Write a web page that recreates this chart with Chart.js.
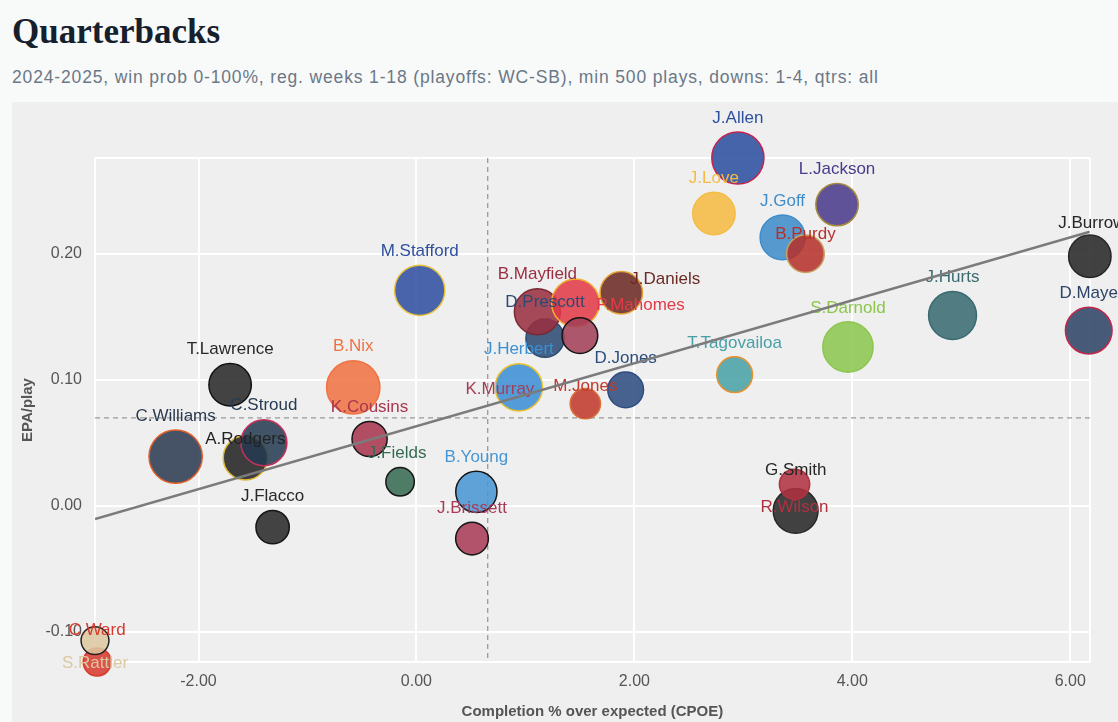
<!DOCTYPE html>
<html>
<head>
<meta charset="utf-8">
<title>Quarterbacks</title>
<script src="https://cdn.jsdelivr.net/npm/chart.js@4.4.1/dist/chart.umd.min.js"></script>
<style>
  html, body { margin: 0; padding: 0; }
  body {
    width: 1118px; height: 722px; overflow: hidden; position: relative;
    background: #f8f9f9; font-family: "Liberation Sans", Arial, sans-serif;
  }
  #title {
    position: absolute; left: 12px; top: 15px; margin: 0;
    font: bold 35px/34px "Liberation Serif", serif; color: #16202d;
  }
  #subtitle {
    position: absolute; left: 12px; top: 66px; white-space: nowrap;
    font: 17.5px/22px "Liberation Sans", Arial, sans-serif; color: #6b7886;
    letter-spacing: 0.85px;
  }
  #panel {
    position: absolute; left: 12px; top: 102px; width: 1106px; height: 620px;
    background: #efefef;
  }
</style>
</head>
<body>
<h1 id="title">Quarterbacks</h1>
<div id="subtitle">2024-2025, win prob 0-100%, reg. weeks 1-18 (playoffs: WC-SB), min 500 plays, downs: 1-4, qtrs: all</div>
<div id="panel"><canvas id="qbChart" width="1106" height="620"></canvas></div>

<script>
// --- data ---
const players = ["J.Allen", "J.Love", "L.Jackson", "J.Goff", "B.Purdy", "J.Burrow", "D.Maye", "J.Hurts",
  "S.Darnold", "T.Tagovailoa", "M.Stafford", "D.Prescott", "B.Mayfield", "P.Mahomes", "J.Daniels",
  "K.Murray", "J.Herbert", "D.Jones", "M.Jones", "B.Nix", "T.Lawrence", "C.Williams", "A.Rodgers",
  "C.Stroud", "K.Cousins", "J.Fields", "B.Young", "J.Brissett", "J.Flacco", "G.Smith", "R.Wilson",
  "C.Ward", "S.Rattler"];
const cpoe = [2.95, 2.73, 3.86, 3.36, 3.57, 6.18, 6.17, 4.92,
  3.96, 2.92, 0.03, 1.18, 1.11, 1.46, 1.88,
  1.50, 0.94, 1.92, 1.55, -0.58, -1.71, -2.21, -1.57,
  -1.40, -0.43, -0.15, 0.55, 0.51, -1.32, 3.48, 3.47,
  -2.93, -2.95];
const epa = [0.276, 0.232, 0.239, 0.213, 0.200, 0.198, 0.139, 0.151,
  0.126, 0.104, 0.171, 0.133, 0.154, 0.161, 0.169,
  0.135, 0.094, 0.092, 0.081, 0.094, 0.096, 0.039, 0.038,
  0.050, 0.053, 0.019, 0.011, -0.026, -0.017, -0.004, 0.017,
  -0.124, -0.107];
const plays = [780, 700, 700, 720, 660, 700, 735, 745,
  765, 645, 765, 665, 730, 745, 700,
  645, 740, 645, 600, 790, 700, 790, 715,
  730, 640, 585, 690, 620, 625, 720, 600,
  580, 580];

const xTicks = [-2, 0, 2, 4, 6];
const yTicks = [-0.1, 0, 0.1, 0.2];

// league averages (dashed lines) and the fitted trend line ends
const avgCpoe = 0.654;
const avgEpa = 0.0698;
const fitX = [-2.95, 6.18];
const fitY = [-0.0105, 0.2175];

// --- styles ---
const teamColors = {
  "J.Allen": ["#2c4f9f", "#c3224f"], "J.Love": ["#f5bb42", "#f5bb42"],
  "L.Jackson": ["#4a3a8c", "#a68a3c"], "J.Goff": ["#3e8cc9", "#3e8cc9"],
  "B.Purdy": ["#b53029", "#c8a060"], "J.Burrow": ["#262626", "#262626"],
  "D.Maye": ["#2d4466", "#c4264a"], "J.Hurts": ["#386a70", "#386a70"],
  "S.Darnold": ["#8cc64e", "#8cc64e"], "T.Tagovailoa": ["#47a0a6", "#e8902c"],
  "M.Stafford": ["#2f4f9f", "#e8c23a"], "D.Prescott": ["#2b4a72", "#2b4a72"],
  "B.Mayfield": ["#9a2f42", "#7a2a34"], "P.Mahomes": ["#e23a48", "#f0b030"],
  "J.Daniels": ["#6b2a24", "#e2a232"], "K.Murray": ["#a23f58", "#151515"],
  "J.Herbert": ["#3b8fd5", "#e8c030"], "D.Jones": ["#2d4c80", "#2d4c80"],
  "M.Jones": ["#c0392a", "#d8703a"], "B.Nix": ["#f07242", "#f07242"],
  "T.Lawrence": ["#282828", "#111111"], "C.Williams": ["#2c3a50", "#e0602a"],
  "A.Rodgers": ["#222222", "#dfb830"], "C.Stroud": ["#263c52", "#c4305a"],
  "K.Cousins": ["#a8354e", "#151515"], "J.Fields": ["#356a52", "#151515"],
  "B.Young": ["#4896d4", "#151515"], "J.Brissett": ["#a83a56", "#151515"],
  "J.Flacco": ["#282828", "#151515"], "G.Smith": ["#262626", "#262626"],
  "R.Wilson": ["#b0303f", "#b0303f"], "C.Ward": ["#d83a2e", "#d83a2e"],
  "S.Rattler": ["#dcc8a0", "#222222"]
};

// label nudges in px from the bubble centre (default: just above the bubble)
const labelShift = {
  "B.Purdy": [0, -19], "J.Daniels": [44, -14], "P.Mahomes": [65, 2],
  "D.Prescott": [0, -36], "K.Murray": [-80, 54], "M.Jones": [0, -17],
  "A.Rodgers": [0, -19], "G.Smith": [0, -40], "R.Wilson": [0, 23],
  "C.Ward": [0, -32], "S.Rattler": [0, 23], "J.Fields": [-3, -29],
  "J.Burrow": [2, -33]
};

const radiusFor = (p) => (p - 350) / 16.5;

const xMin = Math.min(...cpoe), xMax = Math.max(...cpoe);
const yMin = Math.min(...epa), yMax = Math.max(...epa);

Chart.defaults.font.family = '"Liberation Sans", Arial, sans-serif';

const meanLines = {
  id: "meanLines",
  beforeDatasetsDraw(chart) {
    const { ctx, chartArea: a, scales: { x, y } } = chart;
    const vx = x.getPixelForValue(avgCpoe);
    const hy = y.getPixelForValue(avgEpa);
    ctx.save();
    ctx.strokeStyle = "#999999";
    ctx.lineWidth = 1.3;
    ctx.setLineDash([5, 4]);
    ctx.beginPath();
    ctx.moveTo(vx, a.top); ctx.lineTo(vx, a.bottom);
    ctx.moveTo(a.left, hy); ctx.lineTo(a.right, hy);
    ctx.stroke();
    ctx.restore();
  }
};

const bubbleLabels = {
  id: "bubbleLabels",
  afterDatasetDraw(chart, args) {
    if (args.index !== 0) return;
    const ctx = chart.ctx;
    ctx.save();
    ctx.font = '17px "Liberation Sans", Arial, sans-serif';
    ctx.textAlign = "center";
    ctx.textBaseline = "middle";
    args.meta.data.forEach((pt, i) => {
      const name = players[i];
      const r = radiusFor(plays[i]);
      const shift = labelShift[name] || [0, -(r + 14)];
      ctx.fillStyle = teamColors[name][0];
      ctx.fillText(name, pt.x + shift[0], pt.y + shift[1]);
    });
    ctx.restore();
  }
};

new Chart(document.getElementById("qbChart"), {
  type: "bubble",
  data: {
    datasets: [
      {
        label: "QBs",
        order: 2,
        clip: false,
        data: players.map((n, i) => ({ x: cpoe[i], y: epa[i], r: radiusFor(plays[i]) })),
        backgroundColor: players.map(n => teamColors[n][0] + "dd"),
        borderColor: players.map(n => teamColors[n][1]),
        borderWidth: 1.5
      },
      {
        type: "line",
        label: "trend",
        order: 1,
        data: fitX.map((v, i) => ({ x: v, y: fitY[i] })),
        borderColor: "#7b7b7b",
        borderWidth: 2.5,
        pointRadius: 0,
        fill: false
      }
    ]
  },
  options: {
    responsive: false,
    animation: false,
    devicePixelRatio: 1,
    events: [],
    layout: { padding: { top: 56, right: 26, bottom: 0, left: 0 } },
    plugins: { legend: { display: false }, tooltip: { enabled: false } },
    scales: {
      x: {
        type: "linear",
        min: xMin,
        max: xMax,
        afterBuildTicks: (s) => { s.ticks = [xMin, ...xTicks, xMax].map(v => ({ value: v })); },
        afterFit: (s) => { s.height = 60; },
        grid: { color: "#ffffff", lineWidth: 2, drawTicks: false },
        border: { display: false },
        ticks: {
          autoSkip: false, maxRotation: 0, padding: 10, color: "#555555",
          font: { size: 16 },
          callback: (v) => xTicks.includes(v) ? v.toFixed(2) : ""
        },
        title: {
          display: true, text: "Completion % over expected (CPOE)", color: "#555555",
          font: { size: 15, weight: "bold" }, padding: { top: 0, bottom: 1 }
        }
      },
      y: {
        type: "linear",
        min: yMin,
        max: yMax,
        afterBuildTicks: (s) => { s.ticks = [yMin, ...yTicks, yMax].map(v => ({ value: v })); },
        afterFit: (s) => { s.width = 83; },
        grid: { color: "#ffffff", lineWidth: 2, drawTicks: false },
        border: { display: false },
        ticks: {
          autoSkip: false, padding: 13, color: "#555555",
          font: { size: 16 },
          callback: (v) => yTicks.includes(v) ? v.toFixed(2) : ""
        },
        title: {
          display: true, text: "EPA/play", color: "#555555",
          font: { size: 15, weight: "bold" }, padding: { top: 7, bottom: 0 }
        }
      }
    }
  },
  plugins: [meanLines, bubbleLabels]
});
</script>
</body>
</html>
